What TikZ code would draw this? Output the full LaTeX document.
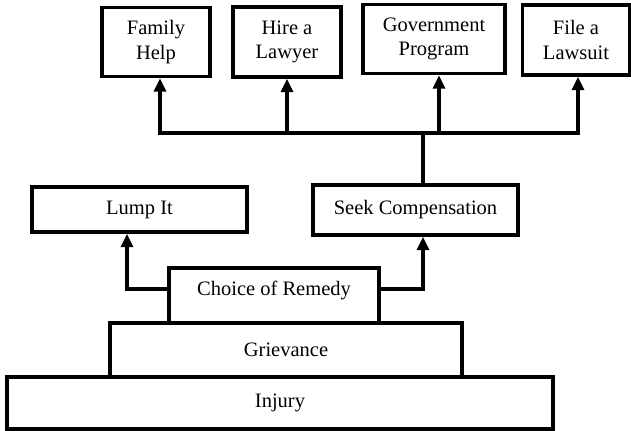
\documentclass[tikz,border=0pt]{standalone}
\usepackage{fontspec}
\setmainfont{Liberation Serif}
\usetikzlibrary{arrows.meta}

\begin{document}
\begin{tikzpicture}[x=0.03cm, y=-0.03cm, line width=3.2pt,
box_style/.style={rectangle,draw=black,fill=white,inner sep=0pt,align=center,font=\fontsize{17.5}{21}\selectfont},
arrow_style/.style={draw=black, -{Triangle[length=0.4cm,width=0.36cm]}}]
\useasboundingbox (0,0) rectangle (631,431);
\node[box_style, minimum width=3.24cm, minimum height=2.07cm] (famhelp) at (156,42) {Family\\Help};
\node[box_style, minimum width=3.24cm, minimum height=2.1cm] (lawyer) at (287,42) {Hire a\\Lawyer};
\node[box_style, minimum width=4.26cm, minimum height=2.07cm] (govprog) at (434,39) {Government\\Program};
\node[box_style, minimum width=3.21cm, minimum height=2.1cm] (lawsuit) at (576,40) {File a\\Lawsuit};
\node[box_style, minimum width=6.45cm, minimum height=1.35cm] (lump) at (139.5,209.5) {Lump It};
\node[box_style, minimum width=6.15cm, minimum height=1.5cm] (seek) at (415.5,210) {Seek Compensation};
\node[box_style, minimum width=16.38cm, minimum height=1.56cm] (injury) at (280,403) {Injury};
\node[box_style, minimum width=10.56cm, minimum height=1.62cm] (grievance) at (286,350) {Grievance};
\node[box_style, minimum width=6.3cm, minimum height=1.65cm, text depth=0.42cm] (remedy) at (274,295.5) {Choice of Remedy};
\coordinate (busjoin) at (423,133);

\draw (seek.north -| busjoin) -- (busjoin);
\draw[arrow_style] (busjoin) -| ([xshift=0.12cm]famhelp.south);
\draw[arrow_style] (busjoin) -| (lawyer.south);
\draw[arrow_style] (busjoin) -| ([xshift=0.15cm]govprog.south);
\draw[arrow_style] (busjoin) -| ([xshift=0.06cm]lawsuit.south);
\draw[arrow_style] ([yshift=0.2cm]remedy.west) -| ([xshift=-0.375cm]lump.south);
\draw[arrow_style] ([yshift=0.2cm]remedy.east) -| (seek.south -| busjoin);

\end{tikzpicture}
\end{document}
